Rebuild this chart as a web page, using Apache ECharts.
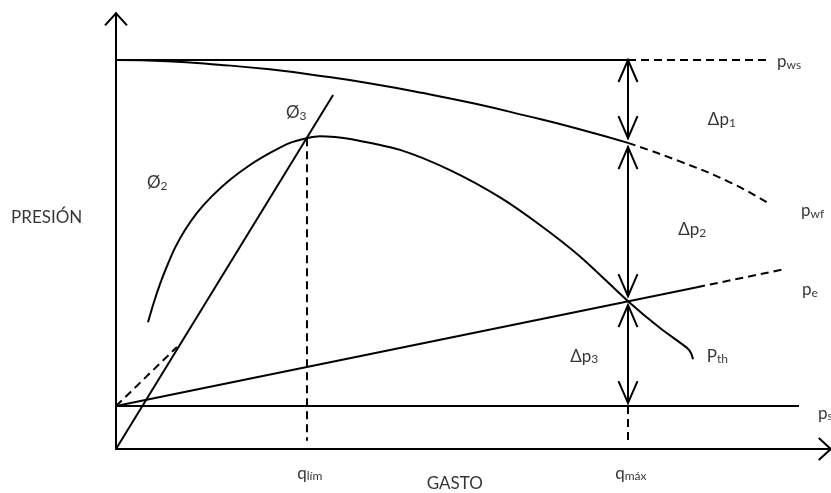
<!DOCTYPE html>
<html>
<head>
<meta charset="utf-8">
<script src="https://cdn.jsdelivr.net/npm/echarts@6/dist/echarts.min.js"></script>
<style>
  html, body { margin: 0; padding: 0; background: #fff; }
  #chart { width: 831px; height: 493px; }
</style>
</head>
<body>
<div id="chart"></div>
<script>
// Flow (gasto) on x, pressure (presión) on y, in relative units.
const Q_MAX = 139.6;
const P_MAX = 112;

// Static reservoir pressure
const pwsSolid = [[0, 100], [100, 100]];
const pwsDashed = [[100, 100], [127.3, 100]];

// Bottom-hole flowing pressure (IPR)
const pwfSolid = [[0, 100], [10, 99.7], [20, 98.8], [30, 97.6], [40, 95.9], [50, 93.9],
                  [60, 91.5], [70, 88.8], [80, 85.7], [90, 82.4], [100, 78.7]];
const pwfDashed = [[100, 78.7], [110, 74.0], [120, 68.5], [127.3, 63.3]];

// Tubing head pressure curve
const pthCurve = [[6.25, 32.6], [7.42, 37.8], [8.59, 42.4], [9.96, 47.0], [11.52, 51.7],
                  [13.48, 56.3], [15.82, 60.7], [18.75, 65.0], [22.27, 69.2], [26.17, 73.0],
                  [30.08, 76.1], [33.98, 78.7], [37.3, 79.9], [39.84, 80.4], [42.77, 80.2],
                  [45.7, 79.7], [55.47, 76.9], [65.23, 71.7], [75.0, 64.7], [82.81, 57.6],
                  [90.63, 49.5], [100, 38.0], [106.25, 31.1], [111.52, 26.0], [112.3, 24.7],
                  [112.7, 23.1]];

// Limit line through the origin
const phi3Line = [[0, 0], [42.4, 91]];

// Choke / separator pressure
const peSolid = [[0, 11.05], [113.5, 41.6]];
const peDashed = [[113.5, 41.6], [130.1, 46.1]];
const peDashedStart = [[0, 11.05], [11.9, 26.2]];
const psLine = [[0, 11.05], [133.4, 11.05]];

// Rate markers
const qLimDrop = [[37.3, 79.9], [37.3, 2.1]];
const qMaxDrop = [[100, 11.05], [100, 2.1]];

// Pressure-drop arrows: [q, p from, p to]
const deltaArrows = [[100, 100, 79.9], [100, 77.6, 39.3], [100, 37.0, 11.8]];

// Axis arrow heads: [q, p, dirX, dirY]
const axisHeads = [[0, P_MAX, 0, -1], [Q_MAX, 0, 1, 0]];

// Text annotations: [q, p, text]
const labels = [
  [129.1, 99.5, '{m|p}{s|ws}'],
  [115.6, 84.6, '{m|Δp}{s|1}'],
  [133.8, 61.4, '{m|p}{s|wf}'],
  [109.8, 56.3, '{m|Δp}{s|2}'],
  [134.0, 40.9, '{m|p}{s|e}'],
  [115.4, 23.9, '{m|P}{s|th}'],
  [88.7, 23.9, '{m|Δp}{s|3}'],
  [137.1, 9.25, '{m|p}{s|s}'],
  [33.2, 86.4, '{m|Ø}{s|3}'],
  [6.05, 68.4, '{m|Ø}{s|2}'],
  [-20.5, 59.6, '{m|PRESIÓN}'],
  [60.7, -9.0, '{m|GASTO}'],
  [35.4, -6.2, '{m|q}{s|lím}'],
  [97.5, -6.2, '{m|q}{s|máx}']
];

const INK = '#000';
const FONT = 'Lato, "Open Sans", sans-serif';

function lineSeries(data, dashed, smooth) {
  return {
    type: 'line',
    data: data,
    showSymbol: false,
    symbol: 'none',
    smooth: smooth || false,
    clip: false,
    silent: true,
    lineStyle: { color: INK, width: 2, type: dashed ? [8, 5] : 'solid', cap: 'butt' }
  };
}

function chevron(tip, dx, dy, len, half) {
  // open "V" head pointing along (dx, dy) with its tip at `tip`
  const bx = tip[0] - dx * len, by = tip[1] - dy * len;
  const px = -dy * half, py = dx * half;
  return {
    type: 'polyline',
    shape: { points: [[bx + px, by + py], tip, [bx - px, by - py]] },
    style: { stroke: INK, lineWidth: 2, fill: null }
  };
}

const chart = echarts.init(document.getElementById('chart'), null, { renderer: 'canvas' });

chart.setOption({
  animation: false,
  backgroundColor: '#fff',
  grid: { left: 116, top: 449 - P_MAX * 3.89, width: Q_MAX * 5.12, height: P_MAX * 3.89 },
  xAxis: {
    type: 'value', min: 0, max: Q_MAX,
    axisLine: { show: true, lineStyle: { color: INK, width: 2 } },
    axisTick: { show: false }, axisLabel: { show: false }, splitLine: { show: false }
  },
  yAxis: {
    type: 'value', min: 0, max: P_MAX,
    axisLine: { show: true, lineStyle: { color: INK, width: 2 } },
    axisTick: { show: false }, axisLabel: { show: false }, splitLine: { show: false }
  },
  series: [
    lineSeries(pwsSolid, false),
    lineSeries(pwsDashed, true),
    lineSeries(pwfSolid, false, true),
    lineSeries(pwfDashed, true, true),
    lineSeries(pthCurve, false, 0.3),
    lineSeries(phi3Line, false),
    lineSeries(peSolid, false),
    lineSeries(peDashed, true),
    lineSeries(peDashedStart, true),
    lineSeries(psLine, false),
    lineSeries(qLimDrop, true),
    lineSeries(qMaxDrop, true),
    {
      type: 'custom',
      data: deltaArrows,
      encode: { x: 0, y: [1, 2] },
      clip: false,
      silent: true,
      renderItem: function (params, api) {
        const q = api.value(0);
        const a = api.coord([q, api.value(1)]);
        const b = api.coord([q, api.value(2)]);
        const len = Math.hypot(b[0] - a[0], b[1] - a[1]);
        const ux = (b[0] - a[0]) / len, uy = (b[1] - a[1]) / len;
        return {
          type: 'group',
          children: [
            { type: 'line', shape: { x1: a[0], y1: a[1], x2: b[0], y2: b[1] },
              style: { stroke: INK, lineWidth: 2 } },
            chevron(a, -ux, -uy, 22, 9.5),
            chevron(b, ux, uy, 22, 9.5)
          ]
        };
      }
    },
    {
      type: 'custom',
      data: axisHeads,
      encode: { x: 0, y: 1 },
      clip: false,
      silent: true,
      renderItem: function (params, api) {
        const tip = api.coord([api.value(0), api.value(1)]);
        return chevron(tip, api.value(2), api.value(3), 12, 11);
      }
    },
    {
      type: 'scatter',
      data: labels.map(function (l) { return { value: [l[0], l[1]], name: l[2] }; }),
      symbolSize: 0,
      clip: false,
      silent: true,
      label: {
        show: true,
        position: [0, 0],
        align: 'left',
        verticalAlign: 'middle',
        formatter: function (p) { return p.name; },
        color: '#000',
        fontFamily: FONT,
        rich: {
          m: { fontFamily: FONT, fontSize: 17, lineHeight: 19, color: '#000' },
          s: { fontFamily: FONT, fontSize: 12, lineHeight: 13, verticalAlign: 'bottom', color: '#000' }
        }
      }
    }
  ]
});
</script>
</body>
</html>
